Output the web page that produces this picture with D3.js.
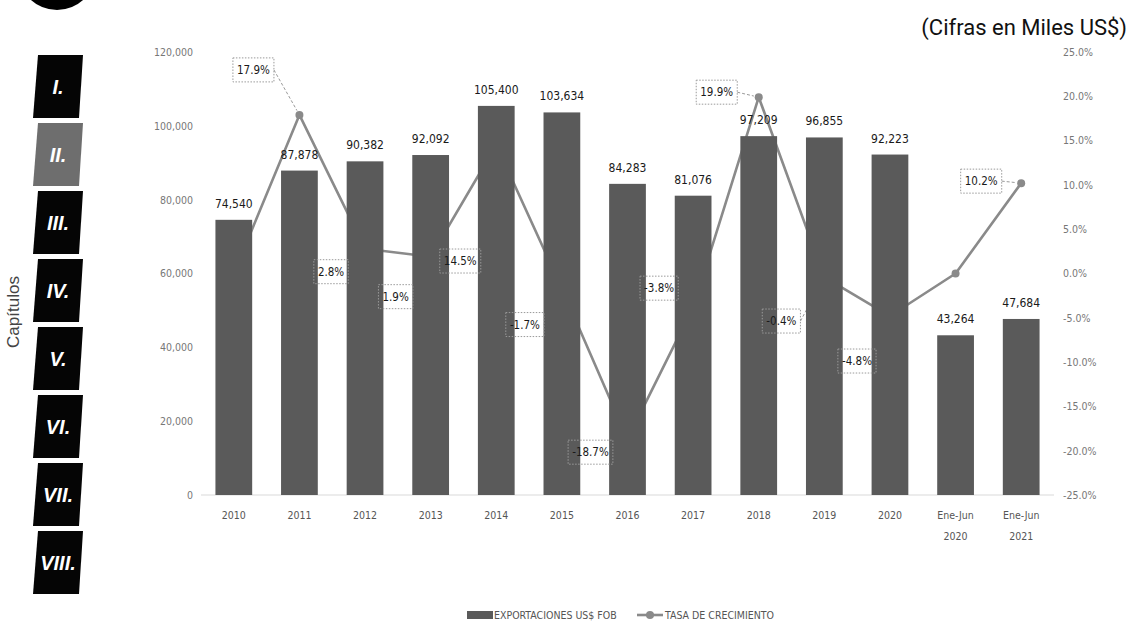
<!DOCTYPE html>
<html>
<head>
<meta charset="utf-8">
<script src="https://cdn.jsdelivr.net/npm/d3@7"></script>
<style>
  html, body { margin: 0; padding: 0; background: #ffffff; }
  svg { display: block; }
</style>
</head>
<body>
<svg id="chart" width="1131" height="633"></svg>
<script>
// ---------- DATA ----------
const categories = ["2010","2011","2012","2013","2014","2015","2016","2017","2018","2019","2020","Ene-Jun 2020","Ene-Jun 2021"];
const exportValues = [74540, 87878, 90382, 92092, 105400, 103634, 84283, 81076, 97209, 96855, 92223, 43264, 47684];
const growthRates = [0.0, 0.179, 0.028, 0.019, 0.145, -0.017, -0.187, -0.038, 0.199, -0.004, -0.048, 0.0, 0.102];
const growthLabels = [null, "17.9%", "2.8%", "1.9%", "14.5%", "-1.7%", "-18.7%", "-3.8%", "19.9%", "-0.4%", "-4.8%", null, "10.2%"];
const leftTicks = [0, 20000, 40000, 60000, 80000, 100000, 120000];
const rightTicks = [-0.25, -0.20, -0.15, -0.10, -0.05, 0, 0.05, 0.10, 0.15, 0.20, 0.25];
const chapters = ["I.", "II.", "III.", "IV.", "V.", "VI.", "VII.", "VIII."];
const seriesNames = ["EXPORTACIONES US$ FOB", "TASA DE CRECIMIENTO"];
const titleText = "(Cifras en Miles US$)";
const sideText = "Capítulos";

// label box offsets from their point (layout, not data)
const labelOffsets = [null, [-46,-45], [-34,23], [-35,40], [-36,116], [-37,36], [-37,13], [-34,-19], [-42,-5], [-43,44], [-33,45], null, [-40,-2]];

// ---------- LAYOUT ----------
const svg = d3.select("#chart");
const numFont = "'Liberation Sans Narrow', 'DejaVu Sans Condensed', 'Liberation Sans', sans-serif";
const barColor = "#5a5a5a";
const lineColor = "#8a8a8a";

const x = d3.scaleBand().domain(categories).range([201, 1054]).paddingInner(0.44).paddingOuter(0.22);
const yL = d3.scaleLinear().domain([0, 120000]).range([495, 52]);
const yR = d3.scaleLinear().domain([-0.25, 0.25]).range([495, 52]);
const cx = c => x(c) + x.bandwidth() / 2;
const pctFmt = v => d3.format(".1%")(v).replace("\u2212", "-");

// top-left decorative circle
svg.append("circle").attr("cx", 57).attr("cy", -29).attr("r", 39).attr("fill", "#000");

// side chapter tabs
const tabStep = 68;
const tabs = svg.append("g");
chapters.forEach((ch, i) => {
  const top = 55 + i * tabStep, h = 63;
  tabs.append("path")
    .attr("d", `M38,${top} L83,${top} L79,${top + h} L33,${top + h} Z`)
    .attr("fill", i === 1 ? "#6e6e6e" : "#050505");
  tabs.append("text")
    .attr("x", 58).attr("y", top + h / 2 + 7)
    .attr("text-anchor", "middle")
    .attr("font-family", "'Liberation Sans Narrow', 'Liberation Sans', sans-serif")
    .attr("font-style", "italic").attr("font-weight", "bold")
    .attr("font-size", 20).attr("fill", "#fff")
    .text(ch);
});
svg.append("text")
  .attr("transform", "translate(19,312) rotate(-90)")
  .attr("text-anchor", "middle")
  .attr("font-family", "'Liberation Sans', Arial, sans-serif")
  .attr("font-size", 17).attr("fill", "#444")
  .text(sideText);

// title
svg.append("text")
  .attr("x", 1127).attr("y", 35)
  .attr("text-anchor", "end")
  .attr("font-family", "Roboto, 'Liberation Sans', sans-serif")
  .attr("font-size", 22).attr("fill", "#111")
  .text(titleText);

// axes
const axisL = d3.axisLeft(yL).tickValues(leftTicks).tickFormat(d3.format(",")).tickSize(0).tickPadding(0);
const gL = svg.append("g").attr("transform", "translate(193,0)").call(axisL);
gL.select(".domain").remove();
gL.selectAll("text").attr("font-family", numFont).attr("font-size", 10.5).attr("fill", "#777");

const axisR = d3.axisRight(yR).tickValues(rightTicks).tickFormat(pctFmt).tickSize(0).tickPadding(0);
const gR = svg.append("g").attr("transform", "translate(1063,0)").call(axisR);
gR.select(".domain").remove();
gR.selectAll("text").attr("font-family", numFont).attr("font-size", 10.5).attr("fill", "#777");

// baseline
svg.append("line").attr("x1", 201).attr("x2", 1054).attr("y1", yL(0)).attr("y2", yL(0))
  .attr("stroke", "#d9d9d9").attr("stroke-width", 1);

// x axis labels
const gX = svg.append("g");
categories.forEach(c => {
  const parts = c.split(" ");
  const t = gX.append("text").attr("x", cx(c)).attr("y", 519)
    .attr("text-anchor", "middle").attr("font-family", numFont)
    .attr("font-size", 10.5).attr("fill", "#555");
  parts.forEach((p, j) => t.append("tspan").attr("x", cx(c)).attr("dy", j === 0 ? 0 : 21).text(p));
});

// leader lines (behind bars)
const leaders = svg.append("g");
const labelData = categories.map((c, i) => growthLabels[i] ? {
  c, i, text: growthLabels[i],
  px: cx(c), py: yR(growthRates[i]),
  bx: cx(c) + labelOffsets[i][0], by: yR(growthRates[i]) + labelOffsets[i][1]
} : null).filter(d => d);

// growth line (behind bars)
const line = d3.line().x((d, i) => cx(categories[i])).y(d => yR(d));
svg.append("path").datum(growthRates)
  .attr("d", line).attr("fill", "none")
  .attr("stroke", lineColor).attr("stroke-width", 2.6).attr("stroke-linejoin", "round");
svg.append("g").selectAll("circle").data(growthRates).join("circle")
  .attr("cx", (d, i) => cx(categories[i])).attr("cy", d => yR(d)).attr("r", 4)
  .attr("fill", lineColor);

// bars
svg.append("g").selectAll("rect").data(exportValues).join("rect")
  .attr("x", (d, i) => x(categories[i])).attr("width", x.bandwidth())
  .attr("y", d => yL(d)).attr("height", d => yL(0) - yL(d))
  .attr("fill", barColor);

// bar value labels
svg.append("g").selectAll("text").data(exportValues).join("text")
  .attr("x", (d, i) => cx(categories[i])).attr("y", d => yL(d) - 12)
  .attr("text-anchor", "middle").attr("font-family", numFont)
  .attr("font-size", 12).attr("fill", "#1a1a1a")
  .text(d => d3.format(",")(d));

// growth labels with dotted boxes
const gLab = svg.append("g");
labelData.forEach(d => {
  const t = gLab.append("text").attr("x", d.bx).attr("y", d.by + 4)
    .attr("text-anchor", "middle").attr("font-family", numFont)
    .attr("font-size", 11.5).attr("fill", "#1a1a1a").text(d.text);
  const bb = t.node().getBBox();
  const w = bb.width + 8, h = 24;
  gLab.insert("rect", "text").attr("x", d.bx - w / 2).attr("y", d.by - h / 2)
    .attr("width", w).attr("height", h).attr("fill", "none")
    .attr("stroke", "#9a9a9a").attr("stroke-width", 1).attr("stroke-dasharray", "1.5,1.5");
  const sx = d.bx + w / 2, sy = d.by;
  const dx = d.px - sx, dy = d.py - sy, len = Math.hypot(dx, dy);
  if (len > 8) {
    leaders.append("line").attr("x1", sx).attr("y1", sy)
      .attr("x2", d.px - dx / len * 5).attr("y2", d.py - dy / len * 5)
      .attr("stroke", "#9a9a9a").attr("stroke-width", 1).attr("stroke-dasharray", "3,2");
  }
});

// legend
const lg = svg.append("g");
lg.append("rect").attr("x", 467).attr("y", 611).attr("width", 26).attr("height", 8).attr("fill", barColor);
lg.append("text").attr("x", 494).attr("y", 619).attr("font-family", numFont)
  .attr("font-size", 10.5).attr("fill", "#555").text(seriesNames[0]);
lg.append("line").attr("x1", 637).attr("x2", 663).attr("y1", 615).attr("y2", 615)
  .attr("stroke", lineColor).attr("stroke-width", 2.6);
lg.append("circle").attr("cx", 650).attr("cy", 615).attr("r", 4).attr("fill", lineColor);
lg.append("text").attr("x", 665).attr("y", 619).attr("font-family", numFont)
  .attr("font-size", 10.5).attr("fill", "#555").text(seriesNames[1]);
</script>
</body>
</html>
